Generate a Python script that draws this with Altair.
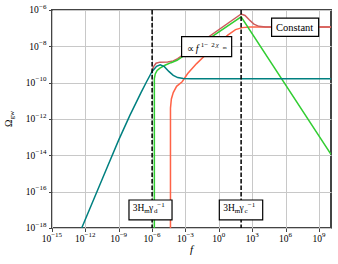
import altair as alt
import pandas as pd

# ---------------- data: log10(f) and log10(Omega_gw) ----------------
teal_lf = [-12.33, -11.0, -10.0, -9.0, -8.0, -7.0, -6.5, -6.0, -5.6, -5.27, -4.9, -4.5, -4.1, -3.7, -3.2, -2.5, 10.08]
teal_lo = [-18.0, -16.06, -14.6, -13.15, -11.8, -10.55, -9.95, -9.38, -9.1, -9.02, -9.12, -9.38, -9.6, -9.72, -9.77, -9.78, -9.78]

red_lf = [-6.0, -5.85, -5.65, -5.3, -4.6, -4.1, -3.7, 2.0, 2.35, 2.75, 3.15, 3.6, 4.2, 10.08]
red_lo = [-9.38, -9.1, -8.93, -8.87, -8.86, -8.8, -8.68, -6.22, -6.3, -6.55, -6.78, -6.9, -6.93, -6.93]

green_lf = [-5.8, -5.8, -5.72, -5.55, -5.3, -4.8, -4.3, -3.76, 2.0, 10.08]
green_lo = [-18.0, -9.78, -9.52, -9.33, -9.2, -9.03, -8.9, -8.77, -6.38, -13.95]

tomato_lf = [-4.35, -4.35, -4.27, -4.1, -3.8, -3.3, -2.8, -2.0, -1.0, 0.0, 0.8, 1.5, 2.1, 2.8, 10.08]
tomato_lo = [-18.0, -11.4, -10.9, -10.55, -10.2, -9.95, -9.5, -8.95, -8.35, -7.8, -7.38, -7.08, -6.97, -6.93, -6.93]

series_names = ["tomato", "indianred", "green", "teal"]
series_colors = ["#ff6347", "#cd5c5c", "#32cd32", "#008080"]

vline_lf = [-6.0, 2.0]

x_tick_exp = [-15, -12, -9, -6, -3, 0, 3, 6, 9]
y_tick_exp = [-18, -16, -14, -12, -10, -8, -6]
x_dom_exp = [-15, 10.08]
y_dom_exp = [-18, -6]

# annotation boxes (log10 extents)
box_f0 = [-8.08, 0.04, -3.35, 4.74]
box_f1 = [-4.21, 3.94, 1.15, 8.97]
box_o0 = [-16.46, -16.46, -7.47, -6.45]
box_o1 = [-17.55, -17.55, -8.57, -7.45]

FONT = "Liberation Serif"
MAIN_SZ = 9.5
SUP_SZ = 7.0


def pow10(e):
    return 10.0 ** e


def exp_str(e):
    return str(e).replace("-", "−")


def sup_width(e):
    s = exp_str(e)
    return sum(0.6 * SUP_SZ if c == "−" else 0.5 * SUP_SZ for c in s)


W10 = 1.0 * MAIN_SZ

pieces = []
for ax, lbl in [(-7.746, "d"), (0.398, "c")]:
    ay = -17.06
    pieces += [
        (ax, ay, "3H", 0, 0, 9.5, "normal", "left"),
        (ax, ay, "m", 11.5, 2.5, 7, "normal", "left"),
        (ax, ay, "γ", 16.2, 0, 9.5, "normal", "left"),
        (ax, ay, lbl, 21.2, 2.5, 7, "normal", "left"),
        (ax, ay, "−1", 24.5, -4, 7, "normal", "left"),
    ]
px, py = -2.892, -8.295
pieces += [
    (px, py, "∝", 0, 0, 9.5, "normal", "left"),
    (px, py, "f", 9, 0, 10, "italic", "left"),
    (px, py, "1", 14, -4.5, 7, "normal", "left"),
    (px, py, "−", 17.5, -4.5, 7, "normal", "left"),
    (px, py, "2", 24.5, -4.5, 7, "normal", "left"),
    (px, py, "χ", 29, -4.5, 7, "italic", "left"),
    (px, py, "m", 36, -3, 5, "normal", "left"),
    (6.81, -7.18, "Constant", 0, 0, 10.5, "normal", "center"),
]

# tick labels as "10" + raised exponent
for e in x_tick_exp:
    W = W10 + sup_width(e)
    pieces.append((e, y_dom_exp[0], "10", -W / 2, 13.5, MAIN_SZ, "normal", "left"))
    pieces.append((e, y_dom_exp[0], exp_str(e), -W / 2 + W10, 9, SUP_SZ, "normal", "left"))
for e in y_tick_exp:
    sw = sup_width(e)
    pieces.append((x_dom_exp[0], e, "10", -5.5 - sw, 3.2, MAIN_SZ, "normal", "right"))
    pieces.append((x_dom_exp[0], e, exp_str(e), -5.5, -1.3, SUP_SZ, "normal", "right"))

rows = []
for name, lf, lo in zip(series_names, [tomato_lf, red_lf, green_lf, teal_lf], [tomato_lo, red_lo, green_lo, teal_lo]):
    for i, (a, b) in enumerate(zip(lf, lo)):
        rows.append({"series": name, "i": i, "f": pow10(a), "o": pow10(b)})
lines_df = pd.DataFrame(rows)

xscale = alt.Scale(type="log", domain=[pow10(x_dom_exp[0]), pow10(x_dom_exp[1])], nice=False)
yscale = alt.Scale(type="log", domain=[pow10(y_dom_exp[0]), pow10(y_dom_exp[1])], nice=False)

x_axis = alt.Axis(values=[pow10(e) for e in x_tick_exp], labels=False, title=None)
y_axis = alt.Axis(values=[pow10(e) for e in y_tick_exp], labels=False, title=None)

base_x = alt.X("f:Q", scale=xscale, axis=x_axis)
base_y = alt.Y("o:Q", scale=yscale, axis=y_axis)

layers = []
for name, col in zip(series_names, series_colors):
    layers.append(
        alt.Chart(lines_df[lines_df.series == name]).mark_line(color=col, strokeWidth=1.5, clip=True)
        .encode(x=base_x, y=base_y, order="i:Q")
    )

vl_df = pd.DataFrame({"f": [pow10(v) for v in vline_lf]})
layers.append(alt.Chart(vl_df).mark_rule(color="black", strokeWidth=1.5, strokeDash=[4.5, 2])
              .encode(x=alt.X("f:Q", scale=xscale)))

box_df = pd.DataFrame({"f0": [pow10(v) for v in box_f0], "f1": [pow10(v) for v in box_f1],
                       "o0": [pow10(v) for v in box_o0], "o1": [pow10(v) for v in box_o1]})
layers.append(alt.Chart(box_df).mark_rect(fill="white", stroke="black", strokeWidth=1.2)
              .encode(x=alt.X("f0:Q", scale=xscale), x2="f1:Q", y=alt.Y("o0:Q", scale=yscale), y2="o1:Q"))

for (ax_, ay_, t, dx, dy, sz, st, al) in pieces:
    layers.append(
        alt.Chart(pd.DataFrame({"f": [pow10(ax_)], "o": [pow10(ay_)], "t": [t]}))
        .mark_text(font=FONT, fontSize=sz, fontStyle=st, align=al, baseline="alphabetic",
                   dx=dx, dy=dy, color="black")
        .encode(x=alt.X("f:Q", scale=xscale), y=alt.Y("o:Q", scale=yscale), text="t:N")
    )

# axis titles
layers.append(alt.Chart(pd.DataFrame({"t": ["f"]})).mark_text(
    font=FONT, fontSize=11, fontStyle="italic", align="center", baseline="alphabetic", color="black")
    .encode(x=alt.value(139.5), y=alt.value(243), text="t:N"))
layers.append(alt.Chart(pd.DataFrame({"t": ["Ω"]})).mark_text(
    font=FONT, fontSize=10, angle=270, align="left", baseline="alphabetic", color="black")
    .encode(x=alt.value(-40), y=alt.value(117), text="t:N"))
layers.append(alt.Chart(pd.DataFrame({"t": ["gw"]})).mark_text(
    font=FONT, fontSize=7, angle=270, align="left", baseline="alphabetic", color="black")
    .encode(x=alt.value(-38), y=alt.value(109.5), text="t:N"))

chart = alt.layer(*layers).properties(
    width=279, height=218,
    autosize=alt.AutoSizeParams(type="none"),
    padding={"left": 52, "top": 10, "right": 7, "bottom": 36},
).configure_view(stroke="#444", strokeWidth=2).configure_axis(
    grid=True, gridColor="#c8c8c8", gridWidth=1, domain=False,
    ticks=True, tickColor="#444", tickSize=3.5, tickWidth=1,
)

chart.save("out.html", embed_options={"renderer": "svg", "actions": False})
